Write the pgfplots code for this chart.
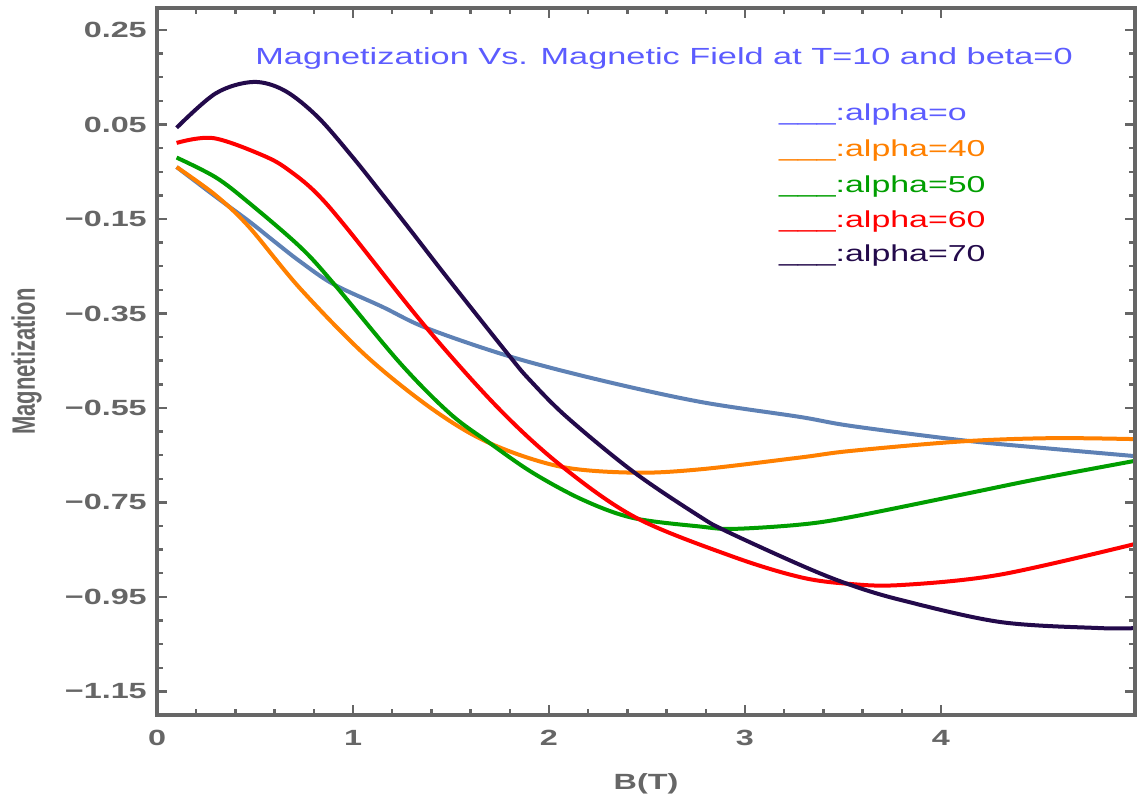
\documentclass[border=0pt]{standalone}
\usepackage{pgfplots}
\pgfplotsset{compat=1.18}
\usepackage{fontspec}
\setmainfont{Liberation Sans}
\newfontfamily\tickfont{Liberation Sans Bold}[FakeStretch=1.47]
\newfontfamily\txtfont{Liberation Sans}[FakeStretch=1.47]
\newfontfamily\ylabfont{Liberation Sans Bold}[FakeStretch=0.68]
\definecolor{axgray}{RGB}{102,102,102}
\definecolor{titleblue}{RGB}{92,92,255}
\definecolor{cblue}{RGB}{94,129,181}
\definecolor{corange}{RGB}{255,128,0}
\definecolor{cgreen}{RGB}{0,158,0}
\definecolor{cred}{RGB}{255,0,0}
\definecolor{cpurple}{RGB}{35,10,75}
\begin{document}
\begin{tikzpicture}
\useasboundingbox (-117.75pt,-58.5pt) rectangle (735pt,536.25pt);
\begin{axis}[at={(0,0)}, anchor=south west, scale only axis,
  width=733.5pt, height=530.25pt,
  xmin=0, xmax=4.99, ymin=-1.2, ymax=0.2966,
  axis line style={axgray, line width=2.2pt},
  tick align=inside, major tick length=7.5pt, minor tick length=4.5pt,
  tick style={axgray, line width=1.8pt},
  xtick={0,1,2,3,4}, minor x tick num=4,
  xticklabels={0,1,2,3,4},
  ytick={-1.15,-0.95,-0.75,-0.55,-0.35,-0.15,0.05,0.25}, minor y tick num=3,
  yticklabels={−1.15,−0.95,−0.75,−0.55,−0.35,−0.15,0.05,0.25},
  ticklabel style={font=\fontsize{16.5}{18}\tickfont, text=axgray},
  yticklabel style={anchor=east, inner sep=0pt, xshift=-7.5pt},
  xticklabel style={anchor=north, inner sep=0pt, yshift=-11.25pt},
  xlabel={B(T)},
  xlabel style={at={(axis description cs:0.5,0)}, anchor=base, yshift=-55.5pt, inner sep=0pt, font=\fontsize{16.5}{18}\tickfont, text=axgray},
  every axis plot post/.append style={line width=3pt, smooth, tension=0.55, mark=none, line join=round},
]
% alpha = 0
\addplot[draw=cblue] coordinates {
(0.1,-0.04) (0.3,-0.103) (0.47,-0.155) (0.6,-0.198) (0.73,-0.240) (0.9,-0.288) (1.15,-0.336)
(1.376,-0.381) (1.8,-0.441) (2.26,-0.491) (2.77,-0.537) (3.28,-0.569)
(3.54,-0.588) (4.1,-0.618) (4.5,-0.634) (4.99,-0.652)};
% alpha = 40
\addplot[draw=corange] coordinates {
(0.1,-0.04) (0.3,-0.10) (0.47,-0.167) (0.73,-0.297) (1.07,-0.441) (1.41,-0.554)
(1.70,-0.625) (2.056,-0.674) (2.43,-0.687) (2.77,-0.68) (3.28,-0.655)
(3.54,-0.641) (4.1,-0.621) (4.56,-0.614) (4.99,-0.616)};
% alpha = 50
\addplot[draw=cgreen] coordinates {
(0.1,-0.02) (0.3,-0.062) (0.47,-0.116) (0.73,-0.209) (0.9,-0.286) (1.24,-0.455)
(1.495,-0.562) (1.70,-0.625) (1.92,-0.688) (2.175,-0.745) (2.43,-0.783) (2.77,-0.801)
(2.94,-0.806) (3.28,-0.797) (3.54,-0.781) (4.1,-0.734) (4.5,-0.70) (4.99,-0.662)};
% alpha = 60
\addplot[draw=cred] coordinates {
(0.1,0.011) (0.29,0.021) (0.56,-0.019) (0.69,-0.052) (0.815,-0.096) (0.968,-0.169) (1.376,-0.381)
(1.75,-0.554) (2.073,-0.676) (2.447,-0.783) (2.94,-0.865) (3.28,-0.908) (3.52,-0.922)
(3.79,-0.925) (4.3,-0.903) (4.99,-0.838)};
% alpha = 70
\addplot[draw=cpurple] coordinates {
(0.1,0.043) (0.3,0.116) (0.49,0.14) (0.65,0.122) (0.82,0.066) (1.0,-0.02)
(1.15,-0.098) (1.29,-0.172) (1.49,-0.279) (1.80,-0.441) (1.9,-0.49) (2.09,-0.569) (2.43,-0.685)
(2.77,-0.78) (2.91,-0.812) (3.28,-0.882) (3.52,-0.922) (3.79,-0.956) (4.3,-1.003)
(4.81,-1.016) (4.99,-1.016)};
\node[anchor=base, inner sep=0pt, font=\fontsize{17.5}{20}\txtfont, text=titleblue] at (axis cs:2.587,0.176) {Magnetization Vs. Magnetic Field at T=10 and beta=0};
\node[anchor=base west, inner sep=0pt, font=\fontsize{17.3}{20}\txtfont, text=titleblue] at (axis cs:3.173,0.0595) {\_\_\_:alpha=o};
\node[anchor=base west, inner sep=0pt, font=\fontsize{17.3}{20}\txtfont, text=corange] at (axis cs:3.173,-0.0167) {\_\_\_:alpha=40};
\node[anchor=base west, inner sep=0pt, font=\fontsize{17.3}{20}\txtfont, text=cgreen] at (axis cs:3.173,-0.0929) {\_\_\_:alpha=50};
\node[anchor=base west, inner sep=0pt, font=\fontsize{17.3}{20}\txtfont, text=cred] at (axis cs:3.173,-0.167) {\_\_\_:alpha=60};
\node[anchor=base west, inner sep=0pt, font=\fontsize{17.3}{20}\txtfont, text=cpurple] at (axis cs:3.173,-0.241) {\_\_\_:alpha=70};
\end{axis}
\draw[axgray, line width=2.4pt] (0,0) rectangle (733.5pt,530.25pt);
\node[rotate=90, anchor=base, inner sep=0pt, font=\fontsize{24.3}{26}\ylabfont, text=axgray] at (-91.5pt,265.1pt) {Magnetization};
\end{tikzpicture}
\end{document}
